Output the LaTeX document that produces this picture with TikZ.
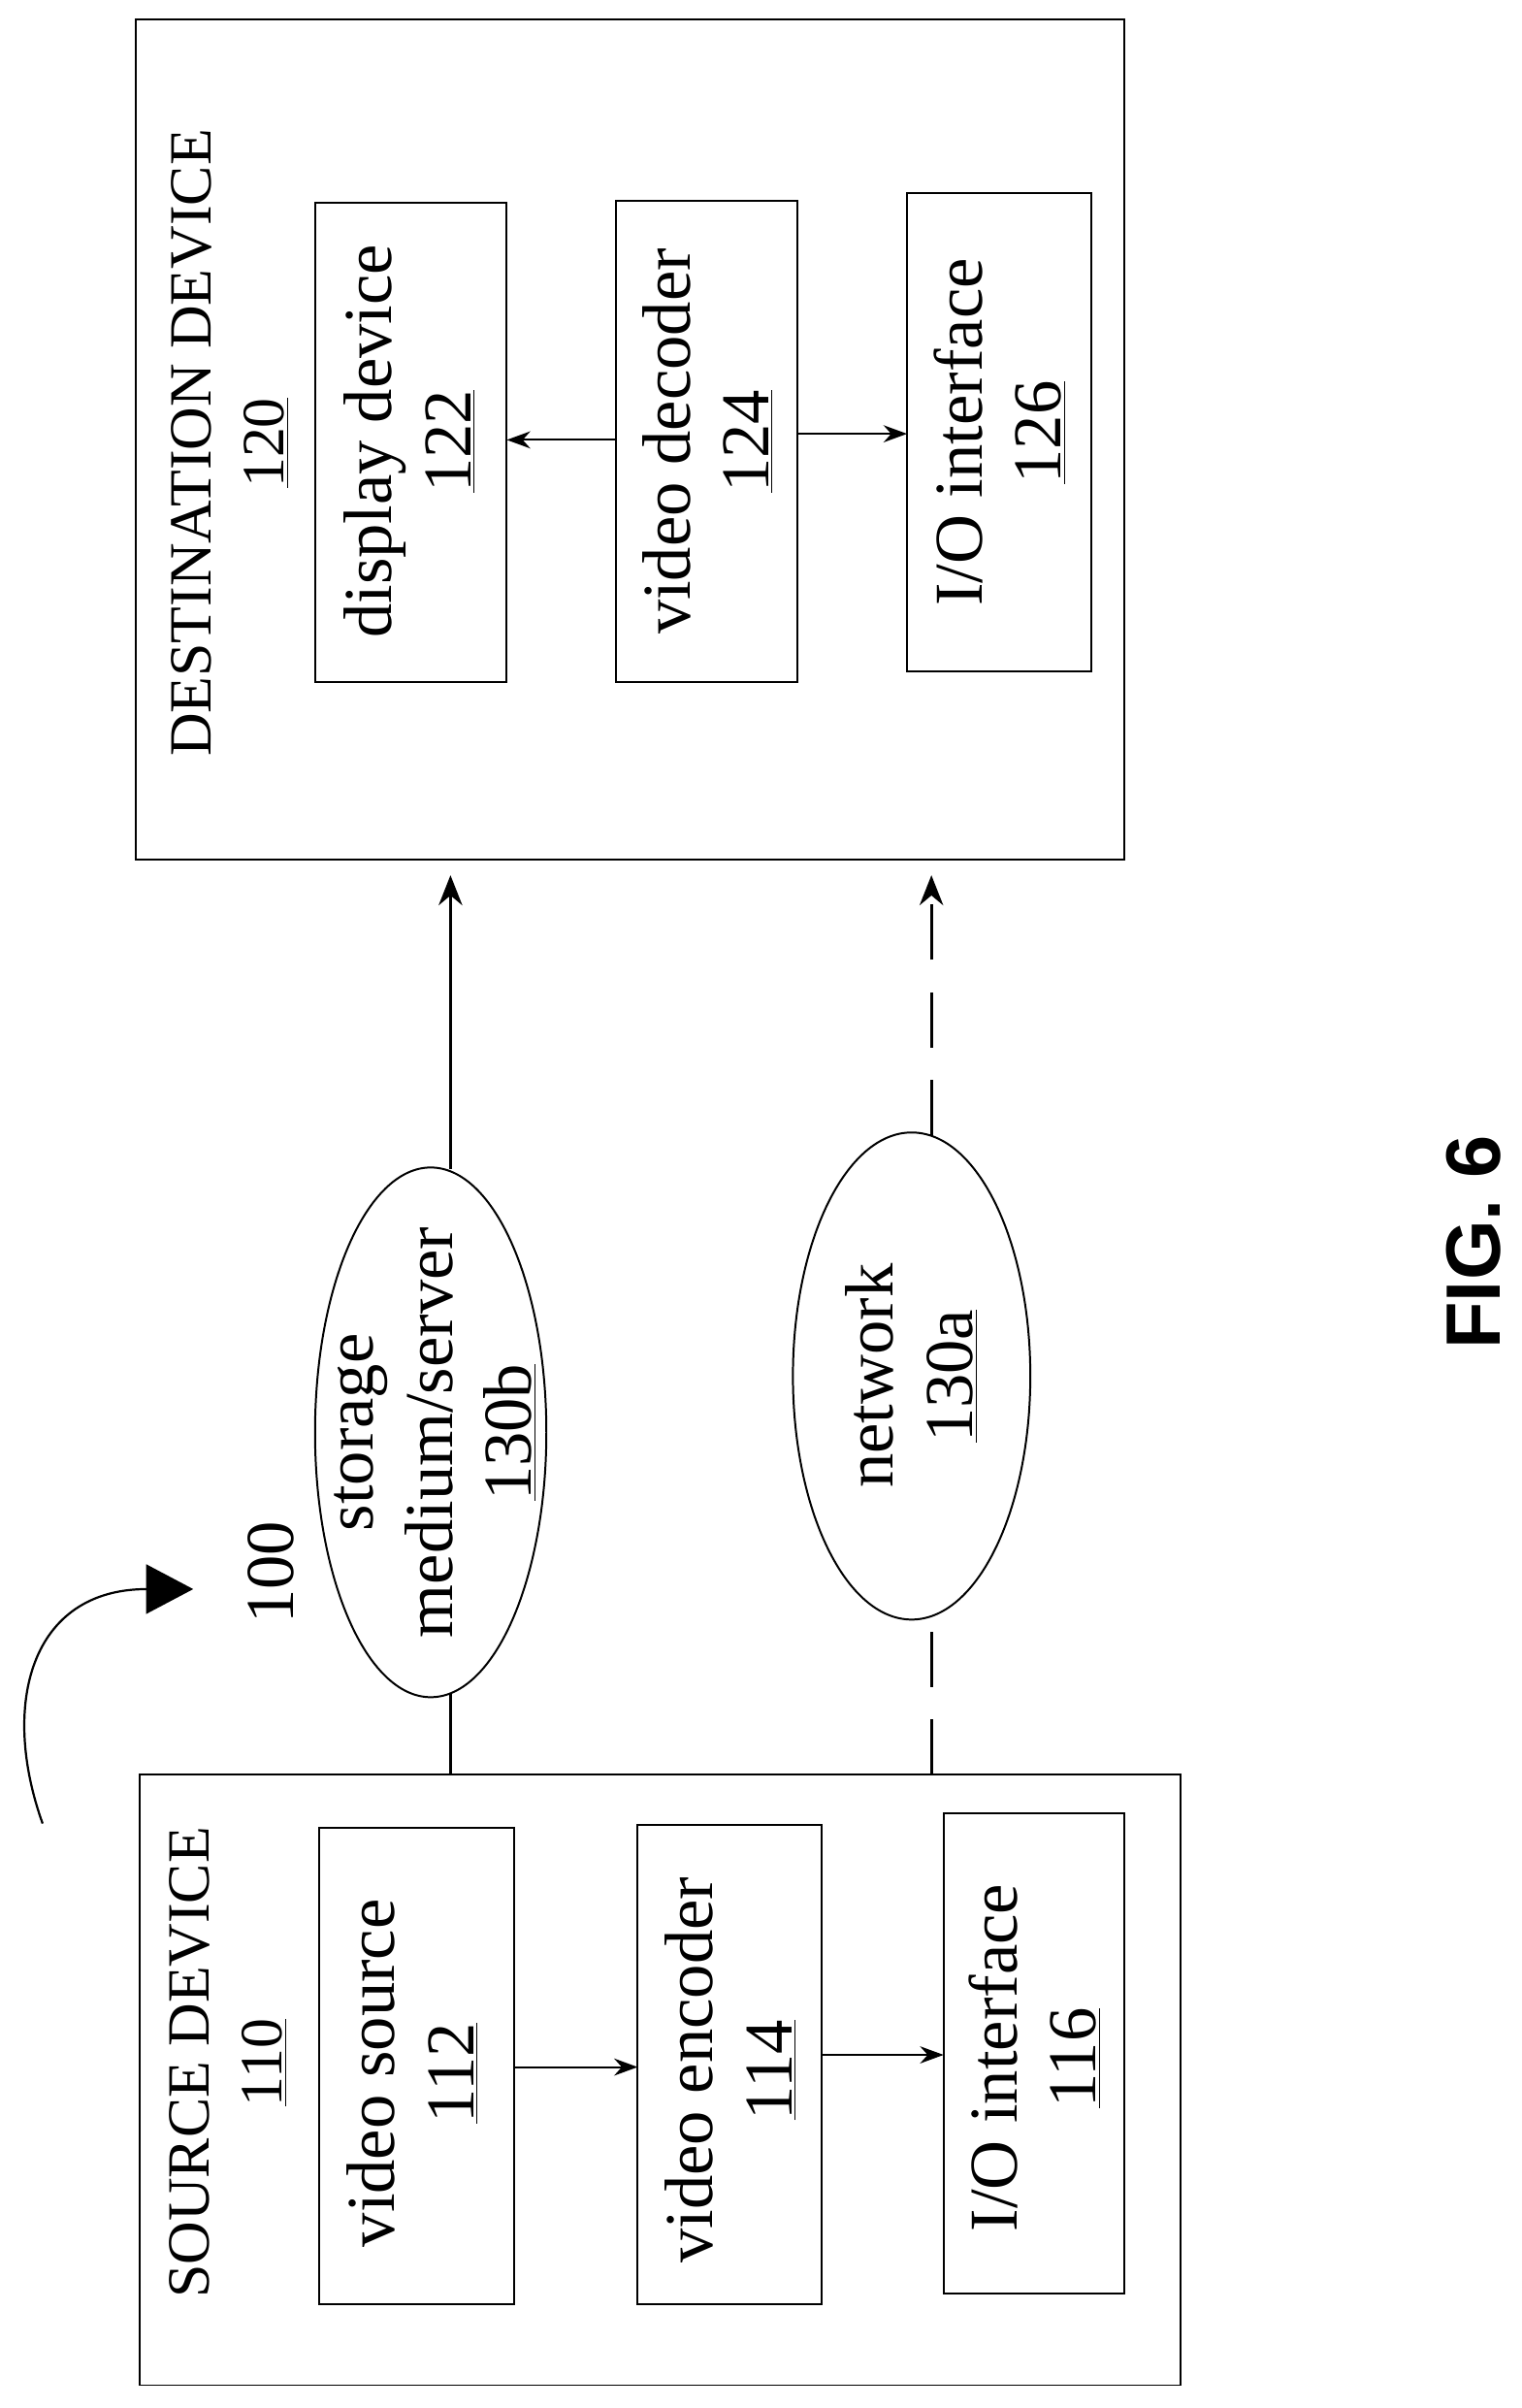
\documentclass[tikz,border=0pt]{standalone}
\usepackage{fontspec}
\setmainfont{Liberation Serif}
\setsansfont{Liberation Sans}
\usetikzlibrary{arrows.meta,shapes.geometric}
\begin{document}
\begin{tikzpicture}[x=0.025cm,y=-0.025cm,
  box/.style={draw,line width=0.9pt},
  t/.style={rotate=90,font=\fontsize{32}{37}\selectfont,align=center,inner sep=0pt},
  tt/.style={rotate=90,font=\fontsize{28}{34}\selectfont,align=center,inner sep=0pt},
  arr/.style={-{Stealth[length=11pt,width=8pt]},line width=0.9pt},
  varr/.style={-{Stealth[length=14pt,width=11pt]},line width=1.5pt}]
\useasboundingbox (0,0) rectangle (1000,1582);
% source device
\draw[box] (92,1166) rectangle (776,1567);
\node[tt] (srcl) at (150,1355) {SOURCE DEVICE\\\underline{110}};
\draw[box] (210,1201) rectangle (338,1514);
\node[t] (vs) at (271,1362) {video source\\\underline{112}};
\draw[box] (419,1199) rectangle (540,1514);
\node[t] (ve) at (480,1360) {video encoder\\\underline{114}};
\draw[box] (620,1191) rectangle (739,1507);
\node[t] (io1) at (680,1352) {I/O interface\\\underline{116}};
\coordinate (a1) at (338,1358); \coordinate (b1) at (419,1358);
\coordinate (a2) at (540,1350); \coordinate (b2) at (620,1350);
\draw[arr] (a1) -- (b1);
\draw[arr] (a2) -- (b2);
% destination
\draw[box] (89,13) rectangle (739,565);
\node[tt] (dstl) at (151,291) {DESTINATION DEVICE\\\underline{120}};
\draw[box] (207,133) rectangle (333,448);
\node[t] (dd) at (269,290) {display device\\\underline{122}};
\draw[box] (405,132) rectangle (524,448);
\node[t] (vd) at (465,290) {video decoder\\\underline{124}};
\draw[box] (596,127) rectangle (717,441);
\node[t] (io2) at (657,284) {I/O interface\\\underline{126}};
\coordinate (c1) at (405,289); \coordinate (d1) at (333,289);
\coordinate (c2) at (524,285); \coordinate (d2) at (596,285);
\draw[arr] (c1) -- (d1);
\draw[arr] (c2) -- (d2);
% ellipses
\draw[line width=0.9pt] (283,941) ellipse [x radius=76,y radius=174];
\node[t] (st) at (286,941) {storage\\medium/server\\\underline{130b}};
\draw[line width=0.9pt] (599,904) ellipse [x radius=78,y radius=160];
\node[t] (nw) at (599,904) {network\\\underline{130a}};
\coordinate (s0) at (296,1166); \coordinate (s1) at (296,1113);
\coordinate (s2) at (296,768); \coordinate (s3) at (296,575);
\draw[line width=1.5pt] (s0) -- (s1);
\draw[varr] (s2) -- (s3);
\coordinate (n0) at (612,1166); \coordinate (n1) at (612,1063);
\coordinate (n2) at (612,746); \coordinate (n3) at (612,575);
\draw[line width=1.5pt,dash pattern=on 26pt off 15pt] (n0) -- (n1);
\draw[varr,dash pattern=on 26pt off 15pt] (n2) -- (n3);
% 100
\node[t] (l100) at (178,1033) {100};
\coordinate (cs) at (28,1198); \coordinate (ce) at (127,1044);
\draw[-{Triangle[length=22pt,width=23pt]},line width=1pt] (cs) .. controls (0,1120) and (20,1044) .. (ce);
\node[rotate=90,font=\sffamily\bfseries\fontsize{36}{42}\selectfont,inner sep=0pt] (fig) at (968,816) {FIG. 6};
\end{tikzpicture}
\end{document}
